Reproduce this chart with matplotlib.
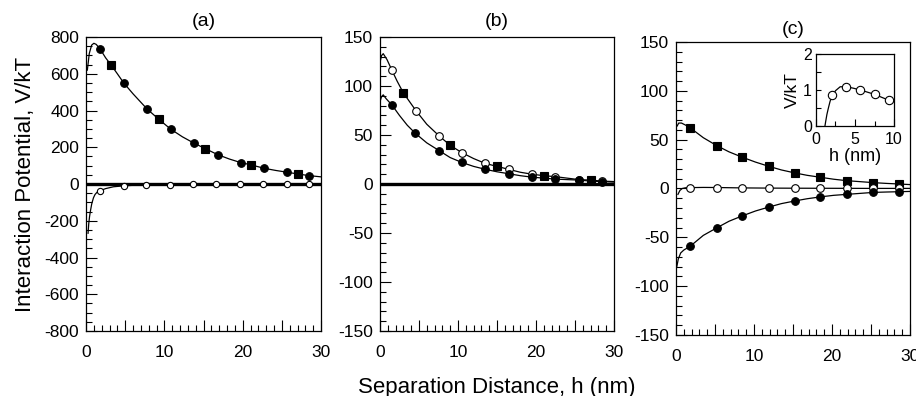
import numpy as np
import matplotlib
matplotlib.use('Agg')
import matplotlib.pyplot as plt
from matplotlib.ticker import MultipleLocator

plt.rcParams['font.family'] = ['Liberation Sans', 'DejaVu Sans']
plt.rcParams['axes.unicode_minus'] = False

# ---- panel (a) ----
a_fill_h = [1.8, 4.8, 7.8, 10.8, 13.8, 16.8, 19.8, 22.7, 25.7, 28.4]
a_fill_v = [735, 551, 408, 299, 222, 160, 116, 86, 64, 46]
a_sq_h = [3.2, 9.3, 15.2, 21.0, 27.0]
a_sq_v = [648, 352, 193, 105, 55]
a_open_h = [1.8, 4.8, 7.7, 10.7, 13.7, 16.6, 19.6, 22.6, 25.6, 28.5]
a_open_v = [-36, -10, -4, -3, -2, -1.5, -1, -1, -0.5, -0.5]
a_up_h = [0.17, 0.42, 0.72, 1.0, 1.3, 1.8, 2.5, 3.2, 4.0, 4.8, 6.0, 7.8, 9.3, 10.8, 12.3,
          13.8, 15.2, 16.8, 18.3, 19.8, 21.0, 22.7, 24.2, 25.7, 27.0, 28.4, 30.0]
a_up_v = [620, 711, 756, 766, 760, 735, 687, 648, 600, 551, 491, 408, 352, 299, 257,
          222, 193, 160, 136, 116, 105, 86, 74, 64, 55, 46, 39]
a_lo_h = [0.26, 0.35, 0.45, 0.55, 0.73, 0.95, 1.15, 1.4, 1.8, 2.5, 3.5, 4.8, 6.0, 7.7,
          10.7, 13.7, 16.6, 19.6, 22.6, 25.6, 28.5, 30.0]
a_lo_v = [-268, -215, -178, -150, -108, -75, -57, -45, -36, -25, -15, -10, -7, -5,
          -3, -2, -1.5, -1, -1, -0.5, -0.5, -0.5]

# ---- panel (b) ----
b_open_h = [1.54, 4.6, 7.6, 10.5, 13.5, 16.5, 19.5, 22.5, 25.5, 28.4]
b_open_v = [116, 75, 49, 32, 21, 15, 10, 7.5, 4.5, 3]
b_sq_h = [3.0, 9.0, 15.0, 21.0, 27.0]
b_sq_v = [93, 39.5, 18, 8.5, 4]
b_fill_h = [1.54, 4.5, 7.6, 10.5, 13.5, 16.5, 19.5, 22.5, 25.5, 28.4]
b_fill_v = [80.6, 52, 34, 22, 15, 10.5, 7, 5, 4, 2.5]
b_up_h = [0.0, 0.2, 0.42, 0.9, 1.54, 2.2, 3.0, 3.8, 4.6, 6.0, 7.6, 9.0, 10.5, 12.0, 13.5,
          15.0, 16.5, 18.0, 19.5, 21.0, 22.5, 24.0, 25.5, 27.0, 28.4, 30.0]
b_up_v = [124, 131, 133, 127, 116, 105, 93, 84, 75, 61, 49, 39.5, 32, 26, 21,
          18, 15, 12, 10, 8.5, 7.5, 6, 4.5, 4, 3, 2.5]
b_lo_h = [0.0, 0.2, 0.42, 0.8, 1.54, 2.5, 3.5, 4.5, 6.0, 7.6, 9.0, 10.5, 12.0, 13.5,
          15.0, 16.5, 18.0, 19.5, 21.0, 22.5, 24.0, 25.5, 27.0, 28.4, 30.0]
b_lo_v = [84, 89, 91, 87, 80.6, 70, 60, 52, 42, 34, 27, 22, 18, 15,
          12.5, 10.5, 8.5, 7, 6, 5, 4.5, 4, 3, 2.5, 2]

# ---- panel (c) ----
c_h = [1.84, 5.2, 8.5, 11.9, 15.2, 18.5, 21.9, 25.3, 28.6]
c_sq_v = [62, 44, 32, 22.7, 16, 11.5, 8, 6, 4.6]
c_open_v = [0.9, 1.0, 0.6, 0.4, 0.3, 0.2, 0.2, 0.1, 0.1]
c_fill_v = [-59, -40.4, -28, -19, -12.8, -8.5, -6, -4, -3.3]
c_up_h = [0.15, 0.35, 0.7, 1.2, 1.84, 3.5, 5.2, 6.8, 8.5, 10.2, 11.9, 13.5, 15.2, 16.8,
          18.5, 20.2, 21.9, 23.6, 25.3, 27.0, 28.6, 30.0]
c_up_v = [64, 67, 67, 65, 62, 52, 44, 37.5, 32, 27, 22.7, 19, 16, 13.5,
          11.5, 9.5, 8, 7, 6, 5.2, 4.6, 4]
c_mid_h = [0.25, 0.5, 0.8, 1.2, 1.84, 3.5, 5.2, 8.5, 12.0, 15.0, 20.0, 25.0, 30.0]
c_mid_v = [-6, -2, 0, 0.7, 0.9, 1.1, 1.0, 0.6, 0.4, 0.3, 0.2, 0.1, 0.1]
c_lo_h = [0.1, 0.3, 0.6, 1.0, 1.84, 3.5, 5.2, 6.8, 8.5, 10.2, 11.9, 13.5, 15.2, 16.8,
          18.6, 20.2, 21.9, 23.6, 25.3, 27.0, 28.6, 30.0]
c_lo_v = [-80, -72, -66, -63, -59, -48, -40.4, -33.5, -28, -23, -19, -15.5, -12.8, -10.5,
          -8.5, -7, -6, -5, -4, -3.6, -3.3, -3]

# ---- inset ----
i_pt_h = [2.1, 3.9, 5.7, 7.5, 9.3]
i_pt_v = [0.86, 1.09, 1.0, 0.88, 0.72]
i_cv_h = [1.15, 1.24, 1.4, 1.58, 1.8, 2.0, 2.5, 3.1, 3.9, 4.8, 5.7, 6.6, 7.5, 8.5, 9.3, 10.0]
i_cv_v = [0.0, 0.12, 0.32, 0.49, 0.68, 0.81, 0.98, 1.09, 1.09, 1.05, 1.0, 0.94, 0.88, 0.79, 0.72, 0.67]

fig = plt.figure(figsize=(9.16, 3.96), dpi=100)
TICK = 12.5


def style(ax, ymaj, ymin):
    ax.set_xlim(0, 30)
    ax.xaxis.set_minor_locator(MultipleLocator(1))
    ax.set_xticks(np.arange(0, 31, 5))
    ax.set_xticklabels(['0', '', '10', '', '20', '', '30'])
    ax.yaxis.set_major_locator(MultipleLocator(ymaj))
    ax.yaxis.set_minor_locator(MultipleLocator(ymin))
    ax.tick_params(which='both', direction='in', top=False, right=False, width=0.8,
                   labelsize=TICK)
    ax.tick_params(which='major', length=8)
    ax.tick_params(which='minor', length=4.5)
    ax.tick_params(axis='x', pad=10)
    ax.tick_params(axis='y', pad=5)
    for s in ax.spines.values():
        s.set_linewidth(0.9)


def marks(ax, h, v, kind, ms=5.5):
    if kind == 'fill':
        ax.plot(h, v, 'o', ms=ms, mfc='black', mec='black', mew=0.8, zorder=5)
    elif kind == 'sq':
        ax.plot(h, v, 's', ms=ms, mfc='black', mec='black', mew=0.8, zorder=5)
    else:
        ax.plot(h, v, 'o', ms=ms, mfc='white', mec='black', mew=0.8, zorder=5)


# (a)
ax1 = fig.add_axes([0.0939, 0.1641, 0.2566, 0.7424])
ax1.axhline(0, color='black', lw=2.4, zorder=2)
ax1.plot(a_up_h, a_up_v, color='black', lw=0.9)
ax1.plot(a_lo_h, a_lo_v, color='black', lw=0.9)
marks(ax1, a_fill_h, a_fill_v, 'fill')
marks(ax1, a_sq_h, a_sq_v, 'sq')
marks(ax1, a_open_h, a_open_v, 'open', ms=4.5)
ax1.set_ylim(-800, 800)
style(ax1, 200, 50)
ax1.set_title('(a)', fontsize=14, pad=8)
ax1.set_ylabel('Interaction Potential, V/kT', fontsize=16, labelpad=6)

# (b)
ax2 = fig.add_axes([0.4148, 0.1641, 0.2555, 0.7424])
ax2.axhline(0, color='black', lw=2.4, zorder=2)
ax2.plot(b_up_h, b_up_v, color='black', lw=0.9)
ax2.plot(b_lo_h, b_lo_v, color='black', lw=0.9)
marks(ax2, b_open_h, b_open_v, 'open')
marks(ax2, b_sq_h, b_sq_v, 'sq')
marks(ax2, b_fill_h, b_fill_v, 'fill')
ax2.set_ylim(-150, 150)
style(ax2, 50, 10)
ax2.set_title('(b)', fontsize=14, pad=8)
ax2.set_xlabel('Separation Distance, h (nm)', fontsize=16, labelpad=12)

# (c)
ax3 = fig.add_axes([0.738, 0.154, 0.2555, 0.740])
ax3.plot(c_up_h, c_up_v, color='black', lw=0.9)
ax3.plot(c_mid_h, c_mid_v, color='black', lw=0.9)
ax3.plot(c_lo_h, c_lo_v, color='black', lw=0.9)
marks(ax3, c_h, c_sq_v, 'sq')
marks(ax3, c_h, c_open_v, 'open')
marks(ax3, c_h, c_fill_v, 'fill')
ax3.set_ylim(-150, 150)
style(ax3, 50, 10)
ax3.set_title('(c)', fontsize=14, pad=6)

# inset
axi = fig.add_axes([0.8908, 0.6818, 0.0852, 0.1818])
axi.plot(i_cv_h, i_cv_v, color='black', lw=0.9)
marks(axi, i_pt_h, i_pt_v, 'open', ms=6)
axi.set_xlim(0, 10)
axi.set_ylim(0, 2)
axi.set_xticks([0, 5, 10])
axi.set_xticks([2.5, 7.5], minor=True)
axi.set_yticks([0, 1, 2])
axi.set_yticks([0.5, 1.5], minor=True)
axi.tick_params(which='both', direction='in', top=False, right=False, width=0.8,
                labelsize=11.5, length=3.5)
axi.tick_params(axis='x', which='major', length=5, pad=4)
axi.tick_params(axis='y', pad=3)
axi.set_xlabel('h (nm)', fontsize=13, labelpad=1)
axi.set_ylabel('V/kT', fontsize=12.5, labelpad=2)
for s in axi.spines.values():
    s.set_linewidth(0.9)

fig.savefig('out.png', dpi=100)
